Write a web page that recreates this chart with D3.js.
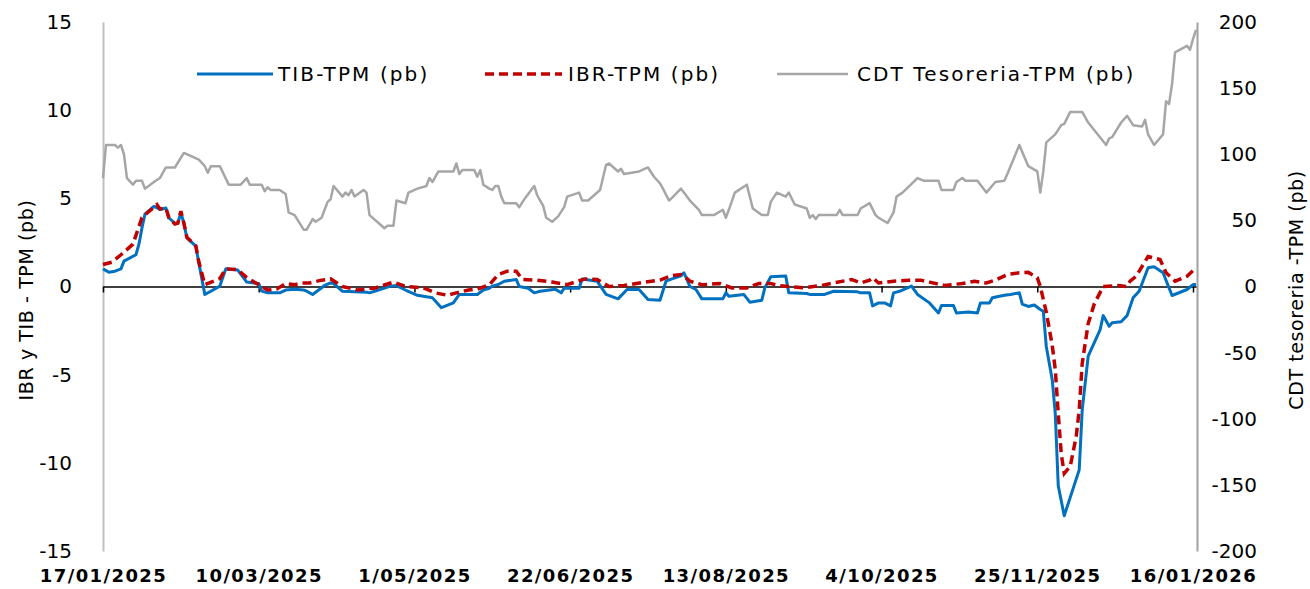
<!DOCTYPE html>
<html>
<head>
<meta charset="utf-8">
<script src="https://cdn.jsdelivr.net/npm/d3@7"></script>
<style>
body { margin: 0; background: #fff; }
text { font-family: "DejaVu Sans", sans-serif; fill: #000; }
</style>
</head>
<body>
<script>
// TIB - TPM (left axis, pb)
var tib = [["2025-01-17",1.0],["2025-01-19",0.81],["2025-01-21",0.87],["2025-01-23",1.0],["2025-01-24",1.44],["2025-01-28",1.8],["2025-01-29",2.4],["2025-01-30",3.3],["2025-01-31",4.1],["2025-02-03",4.55],["2025-02-05",4.37],["2025-02-07",4.45],["2025-02-08",3.9],["2025-02-10",3.57],["2025-02-11",3.6],["2025-02-12",4.18],["2025-02-13",3.6],["2025-02-14",2.76],["2025-02-17",2.29],["2025-02-18",1.34],["2025-02-20",-0.45],["2025-02-22",-0.27],["2025-02-25",0.02],["2025-02-27",1.0],["2025-03-03",0.93],["2025-03-06",0.25],["2025-03-10",0.17],["2025-03-11",-0.26],["2025-03-13",-0.36],["2025-03-17",-0.36],["2025-03-19",-0.2],["2025-03-22",-0.15],["2025-03-25",-0.2],["2025-03-26",-0.26],["2025-03-28",-0.45],["2025-03-30",-0.2],["2025-04-01",0.06],["2025-04-03",0.2],["2025-04-04",0.17],["2025-04-07",-0.27],["2025-04-15",-0.32],["2025-04-16",-0.36],["2025-04-19",-0.2],["2025-04-23",0.02],["2025-04-25",0.05],["2025-04-28",-0.2],["2025-05-02",-0.5],["2025-05-07",-0.64],["2025-05-10",-1.2],["2025-05-14",-0.93],["2025-05-16",-0.45],["2025-05-22",-0.45],["2025-05-24",-0.2],["2025-05-26",-0.1],["2025-05-27",0.02],["2025-05-29",0.11],["2025-05-31",0.3],["2025-06-04",0.4],["2025-06-05",0],["2025-06-08",-0.1],["2025-06-10",-0.36],["2025-06-12",-0.27],["2025-06-17",-0.15],["2025-06-19",-0.36],["2025-06-20",-0.1],["2025-06-25",-0.1],["2025-06-26",0.43],["2025-07-01",0.3],["2025-07-04",-0.45],["2025-07-08",-0.7],["2025-07-11",-0.17],["2025-07-15",-0.17],["2025-07-18",-0.74],["2025-07-22",-0.78],["2025-07-24",0.3],["2025-07-26",0.43],["2025-07-29",0.6],["2025-07-30",0.78],["2025-08-01",0],["2025-08-03",-0.17],["2025-08-05",-0.7],["2025-08-12",-0.7],["2025-08-13",-0.36],["2025-08-14",-0.55],["2025-08-19",-0.45],["2025-08-21",-0.89],["2025-08-25",-0.78],["2025-08-26",-0.08],["2025-08-28",0.55],["2025-09-02",0.6],["2025-09-03",-0.36],["2025-09-09",-0.4],["2025-09-10",-0.45],["2025-09-15",-0.45],["2025-09-18",-0.27],["2025-09-26",-0.3],["2025-09-27",-0.36],["2025-09-30",-0.36],["2025-10-01",-1.1],["2025-10-03",-0.93],["2025-10-05",-0.93],["2025-10-07",-1.1],["2025-10-08",-0.36],["2025-10-10",-0.27],["2025-10-14",0.02],["2025-10-16",-0.45],["2025-10-20",-0.93],["2025-10-23",-1.5],["2025-10-24",-1.08],["2025-10-28",-1.08],["2025-10-29",-1.5],["2025-11-02",-1.45],["2025-11-05",-1.5],["2025-11-06",-0.93],["2025-11-09",-0.93],["2025-11-10",-0.64],["2025-11-14",-0.5],["2025-11-16",-0.45],["2025-11-19",-0.36],["2025-11-20",-1.0],["2025-11-22",-1.13],["2025-11-24",-1.05],["2025-11-26",-1.3],["2025-11-27",-1.4],["2025-11-28",-3.4],["2025-11-30",-5.3],["2025-12-01",-7.2],["2025-12-02",-11.3],["2025-12-04",-13.0],["2025-12-09",-10.4],["2025-12-10",-7.0],["2025-12-12",-3.95],["2025-12-16",-2.44],["2025-12-17",-1.65],["2025-12-19",-2.25],["2025-12-20",-2.06],["2025-12-23",-2.0],["2025-12-25",-1.65],["2025-12-27",-0.64],["2025-12-29",-0.27],["2026-01-01",1.06],["2026-01-03",1.12],["2026-01-06",0.78],["2026-01-09",-0.51],["2026-01-14",-0.17],["2026-01-16",0.11],["2026-01-17",0.11]];

// IBR - TPM (left axis, pb)
var ibr = [["2025-01-17",1.25],["2025-01-20",1.38],["2025-01-23",1.8],["2025-01-27",2.4],["2025-01-30",3.9],["2025-02-04",4.65],["2025-02-05",4.4],["2025-02-07",4.45],["2025-02-08",3.9],["2025-02-10",3.55],["2025-02-11",3.6],["2025-02-12",4.27],["2025-02-13",3.6],["2025-02-14",2.8],["2025-02-17",2.3],["2025-02-18",1.4],["2025-02-20",0.1],["2025-02-25",0.45],["2025-02-27",1.0],["2025-03-03",0.95],["2025-03-06",0.5],["2025-03-09",0.2],["2025-03-13",-0.2],["2025-03-16",-0.15],["2025-03-19",0.17],["2025-03-22",0.1],["2025-03-24",0.2],["2025-03-27",0.2],["2025-03-31",0.36],["2025-04-03",0.43],["2025-04-07",0],["2025-04-12",-0.2],["2025-04-18",-0.08],["2025-04-24",0.25],["2025-04-28",0],["2025-05-04",-0.08],["2025-05-08",-0.36],["2025-05-12",-0.5],["2025-05-15",-0.36],["2025-05-19",-0.2],["2025-05-22",-0.15],["2025-05-26",0.1],["2025-05-29",0.68],["2025-06-01",0.87],["2025-06-04",0.87],["2025-06-06",0.4],["2025-06-11",0.36],["2025-06-16",0.25],["2025-06-21",0.11],["2025-06-27",0.43],["2025-07-01",0.4],["2025-07-05",0],["2025-07-10",0.06],["2025-07-17",0.25],["2025-07-22",0.36],["2025-07-26",0.62],["2025-07-29",0.68],["2025-07-30",0.6],["2025-08-01",0.3],["2025-08-05",0.1],["2025-08-11",0.17],["2025-08-15",-0.08],["2025-08-20",-0.08],["2025-08-24",0.17],["2025-08-28",0.17],["2025-08-31",0.05],["2025-09-03",0],["2025-09-08",-0.08],["2025-09-14",0.06],["2025-09-18",0.2],["2025-09-24",0.4],["2025-09-27",0.2],["2025-09-30",0.36],["2025-10-01",0.5],["2025-10-03",0.2],["2025-10-08",0.3],["2025-10-13",0.36],["2025-10-17",0.36],["2025-10-20",0.25],["2025-10-25",0.06],["2025-10-31",0.17],["2025-11-04",0.3],["2025-11-08",0.2],["2025-11-11",0.36],["2025-11-15",0.68],["2025-11-19",0.78],["2025-11-22",0.8],["2025-11-25",0.5],["2025-11-26",0],["2025-11-28",-1.45],["2025-11-30",-3.35],["2025-12-01",-4.7],["2025-12-02",-7.2],["2025-12-03",-9.5],["2025-12-04",-10.6],["2025-12-06",-10.2],["2025-12-08",-8.5],["2025-12-09",-7.0],["2025-12-10",-4.36],["2025-12-12",-2.1],["2025-12-14",-1.0],["2025-12-17",0],["2025-12-22",0.05],["2025-12-25",0],["2025-12-26",0.3],["2025-12-28",0.58],["2026-01-01",1.7],["2026-01-05",1.53],["2026-01-07",0.78],["2026-01-10",0.3],["2026-01-14",0.58],["2026-01-17",1.06]];

// CDT Tesoreria - TPM (right axis, pb)
var cdt = [["2025-01-17",82],["2025-01-18",107],["2025-01-21",107],["2025-01-22",105],["2025-01-23",107],["2025-01-24",100],["2025-01-25",82],["2025-01-27",77],["2025-01-28",80],["2025-01-30",80],["2025-01-31",74],["2025-02-03",79],["2025-02-05",82],["2025-02-07",90],["2025-02-10",90],["2025-02-13",101],["2025-02-16",98],["2025-02-18",96],["2025-02-20",91],["2025-02-21",86],["2025-02-22",91],["2025-02-25",91],["2025-02-28",77],["2025-03-04",77],["2025-03-06",82],["2025-03-07",77],["2025-03-11",77],["2025-03-12",72],["2025-03-13",75],["2025-03-14",73],["2025-03-17",73],["2025-03-19",70],["2025-03-20",56],["2025-03-22",54],["2025-03-25",43],["2025-03-26",43],["2025-03-28",51],["2025-03-29",49],["2025-03-31",52],["2025-04-02",64],["2025-04-03",66],["2025-04-04",76],["2025-04-07",68],["2025-04-08",71],["2025-04-09",69],["2025-04-10",73],["2025-04-11",68],["2025-04-14",73],["2025-04-15",71],["2025-04-16",54],["2025-04-21",44],["2025-04-22",46],["2025-04-24",46],["2025-04-25",65],["2025-04-28",63],["2025-04-29",71],["2025-04-30",72],["2025-05-02",74],["2025-05-05",76],["2025-05-06",82],["2025-05-07",79],["2025-05-09",87],["2025-05-14",87],["2025-05-15",93],["2025-05-16",85],["2025-05-17",88],["2025-05-21",88],["2025-05-22",83],["2025-05-23",88],["2025-05-24",77],["2025-05-26",74],["2025-05-27",73],["2025-05-28",76],["2025-05-29",76],["2025-05-30",68],["2025-05-31",63],["2025-06-04",63],["2025-06-05",60],["2025-06-07",67],["2025-06-10",76],["2025-06-11",69],["2025-06-12",65],["2025-06-13",61],["2025-06-14",52],["2025-06-16",49],["2025-06-18",53],["2025-06-20",60],["2025-06-21",68],["2025-06-25",71],["2025-06-26",65],["2025-06-28",65],["2025-07-02",73],["2025-07-04",92],["2025-07-05",93],["2025-07-08",87],["2025-07-09",89],["2025-07-10",85],["2025-07-15",87],["2025-07-18",90],["2025-07-20",83],["2025-07-22",78],["2025-07-23",74],["2025-07-25",65],["2025-07-26",67],["2025-07-29",74],["2025-07-30",71],["2025-08-01",65],["2025-08-04",58],["2025-08-05",54],["2025-08-09",54],["2025-08-12",58],["2025-08-13",52],["2025-08-14",58],["2025-08-16",71],["2025-08-20",77],["2025-08-22",59],["2025-08-25",54],["2025-08-27",54],["2025-08-28",64],["2025-08-30",71],["2025-09-02",68],["2025-09-03",71],["2025-09-05",62],["2025-09-09",59],["2025-09-10",52],["2025-09-11",54],["2025-09-12",51],["2025-09-13",54],["2025-09-19",54],["2025-09-20",58],["2025-09-21",54],["2025-09-26",54],["2025-09-27",59],["2025-09-30",63],["2025-10-02",54],["2025-10-03",52],["2025-10-06",48],["2025-10-08",56],["2025-10-09",68],["2025-10-11",71],["2025-10-16",82],["2025-10-18",80],["2025-10-23",80],["2025-10-24",73],["2025-10-28",73],["2025-10-29",79],["2025-10-31",82],["2025-11-01",80],["2025-11-05",80],["2025-11-08",71],["2025-11-11",79],["2025-11-14",80],["2025-11-15",85],["2025-11-19",107],["2025-11-22",91],["2025-11-25",87],["2025-11-26",71],["2025-11-27",87],["2025-11-28",109],["2025-12-01",115],["2025-12-03",122],["2025-12-04",123],["2025-12-06",132],["2025-12-10",132],["2025-12-12",124],["2025-12-18",107],["2025-12-19",112],["2025-12-20",113],["2025-12-23",124],["2025-12-25",129],["2025-12-27",122],["2025-12-30",121],["2025-12-31",126],["2026-01-01",115],["2026-01-03",107],["2026-01-06",115],["2026-01-07",140],["2026-01-08",138],["2026-01-09",153],["2026-01-10",177],["2026-01-14",182],["2026-01-15",179],["2026-01-16",187],["2026-01-17",194]];

var xTicks = ["2025-01-17","2025-03-10","2025-05-01","2025-06-22","2025-08-13","2025-10-04","2025-11-25","2026-01-16"];
var leftTicks = [-15, -10, -5, 0, 5, 10, 15];
var rightTicks = [-200, -150, -100, -50, 0, 50, 100, 150, 200];

var parse = d3.timeParse("%Y-%m-%d");
var fmt = d3.timeFormat("%-d/%m/%Y");
var plain = function(d) { return String(d); };

var W = 1310, H = 589;
var plotL = 103, plotR = 1196, plotT = 22, plotB = 551;

var svg = d3.select("body").append("svg")
    .attr("width", W)
    .attr("height", H);

var x = d3.scaleTime()
    .domain([parse("2025-01-17"), parse("2026-01-17")])
    .range([plotL, plotR]);
var yL = d3.scaleLinear().domain([-15, 15]).range([plotB, plotT]);
var yR = d3.scaleLinear().domain([-200, 200]).range([plotB, plotT]);

// left axis
var gL = svg.append("g")
    .attr("transform", "translate(" + plotL + ",0)")
    .call(d3.axisLeft(yL).tickValues(leftTicks).tickFormat(plain).tickSize(0).tickPadding(31).tickSizeOuter(0));
gL.select(".domain").attr("stroke", "#c0c0c0").attr("stroke-width", 2);
gL.selectAll("text").attr("font-size", "20px").style("font-family", "DejaVu Sans").attr("fill", "#000");

// right axis
var gR = svg.append("g")
    .attr("transform", "translate(" + (plotR + 1) + ",0)")
    .call(d3.axisRight(yR).tickValues(rightTicks).tickFormat(plain).tickSize(0).tickSizeOuter(0));
gR.select(".domain").attr("stroke", "#a0a0a0").attr("stroke-width", 2);
gR.selectAll("text")
    .attr("font-size", "20px").style("font-family", "DejaVu Sans").attr("fill", "#000")
    .attr("text-anchor", "end").attr("x", 60);

// zero line with small ticks
var g0 = svg.append("g")
    .attr("transform", "translate(0," + yL(0) + ")")
    .call(d3.axisBottom(x).tickValues(xTicks.map(parse)).tickSize(6).tickSizeOuter(0).tickFormat(""));
g0.select(".domain").attr("stroke", "#000").attr("stroke-width", 1.5);
g0.selectAll(".tick line").attr("stroke", "#000").attr("stroke-width", 1.5);

// date labels
var gX = svg.append("g")
    .attr("transform", "translate(0," + plotB + ")")
    .call(d3.axisBottom(x).tickValues(xTicks.map(parse)).tickSize(0).tickPadding(18).tickFormat(fmt));
gX.select(".domain").remove();
gX.selectAll("text")
    .attr("font-size", "18px").attr("font-weight", "bold")
    .style("font-family", "DejaVu Sans").attr("fill", "#000")
    .style("letter-spacing", "1.4px");

// axis titles
svg.append("text")
    .attr("transform", "translate(33,300) rotate(-90)")
    .attr("text-anchor", "middle")
    .attr("font-size", "19px")
    .style("letter-spacing", "0.6px")
    .text("IBR y TIB - TPM (pb)");

svg.append("text")
    .attr("transform", "translate(1303,290) rotate(-90)")
    .attr("text-anchor", "middle")
    .attr("font-size", "19px")
    .style("letter-spacing", "0.6px")
    .text("CDT tesoreria -TPM (pb)");

// lines
var lineL = d3.line().x(function(d) { return x(parse(d[0])); }).y(function(d) { return yL(d[1]); });
var lineR = d3.line().x(function(d) { return x(parse(d[0])); }).y(function(d) { return yR(d[1]); });

svg.append("path").datum(cdt)
    .attr("d", lineR)
    .attr("fill", "none").attr("stroke", "#a6a6a6").attr("stroke-width", 2.5)
    .attr("stroke-linejoin", "round");

svg.append("path").datum(tib)
    .attr("d", lineL)
    .attr("fill", "none").attr("stroke", "#0070c0").attr("stroke-width", 3)
    .attr("stroke-linejoin", "round");

svg.append("path").datum(ibr)
    .attr("d", lineL)
    .attr("fill", "none").attr("stroke", "#c00000").attr("stroke-width", 3.5)
    .attr("stroke-dasharray", "9,5");

// legend
var legend = [
  {name: "TIB-TPM (pb)", color: "#0070c0", w: 3, dash: null, x1: 197, x2: 273, tx: 278},
  {name: "IBR-TPM (pb)", color: "#c00000", w: 3.5, dash: "9,5", x1: 485, x2: 562, tx: 568},
  {name: "CDT Tesoreria-TPM (pb)", color: "#a6a6a6", w: 2.5, dash: null, x1: 777, x2: 848, tx: 857}
];
var lg = svg.selectAll(".leg").data(legend).enter().append("g").attr("class", "leg");
lg.append("line")
    .attr("x1", function(d) { return d.x1; })
    .attr("x2", function(d) { return d.x2; })
    .attr("y1", 74).attr("y2", 74)
    .attr("stroke", function(d) { return d.color; })
    .attr("stroke-width", function(d) { return d.w; })
    .attr("stroke-dasharray", function(d) { return d.dash; });
lg.append("text")
    .attr("x", function(d) { return d.tx; })
    .attr("y", 74)
    .attr("dy", ".35em")
    .attr("font-size", "20px")
    .style("letter-spacing", "2.1px")
    .text(function(d) { return d.name; });
</script>
</body>
</html>
